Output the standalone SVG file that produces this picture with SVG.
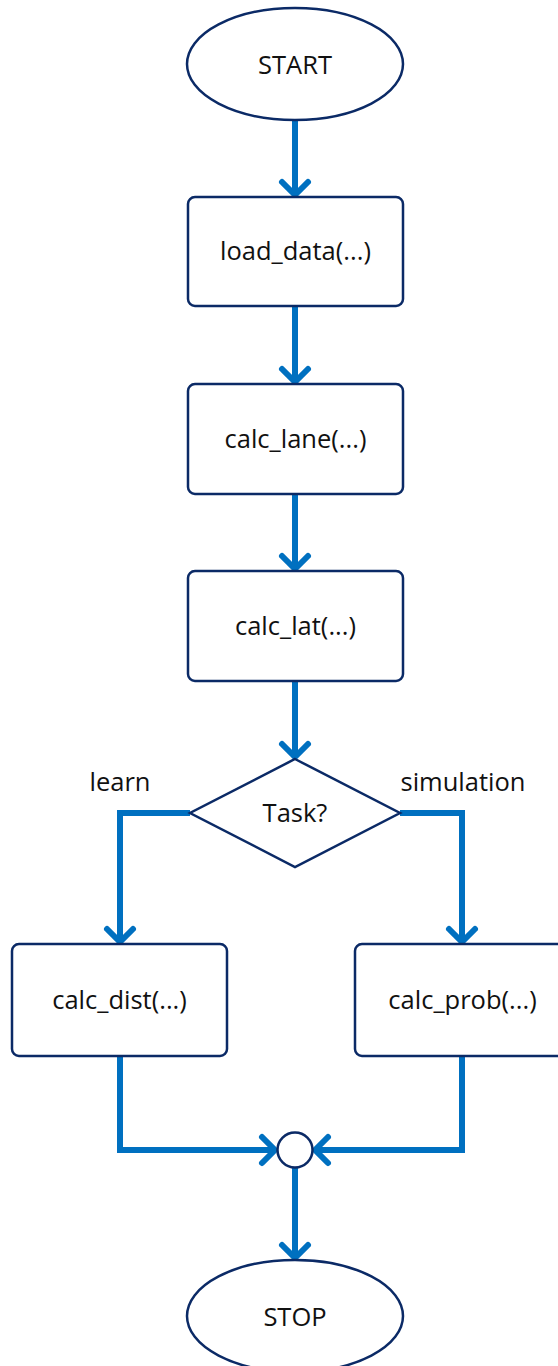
<svg xmlns="http://www.w3.org/2000/svg" width="558" height="1366" viewBox="0 0 558 1366">
  <style>
    .shape { fill: #ffffff; stroke: #0b2a66; stroke-width: 2.5; }
    .label { font-family: "Open Sans", "Liberation Sans", sans-serif; font-size: 25.5px; fill: #111111; text-anchor: middle; }
    .flow { fill: none; stroke: #0070c0; stroke-width: 6; stroke-linejoin: miter; marker-end: url(#chevron); }
  </style>
  <defs>
    <marker id="chevron" markerUnits="userSpaceOnUse" viewBox="-20 -20 26 40" refX="0" refY="0" markerWidth="26" markerHeight="40" orient="auto" overflow="visible">
      <path d="M-13,-13 L0,0 L-13,13" fill="none" stroke="#0070c0" stroke-width="6" stroke-linecap="round" stroke-linejoin="round"/>
    </marker>
  </defs>

  <!-- connectors -->
  <g id="connectors">
    <path class="flow" d="M295,120 V195"/>
    <path class="flow" d="M295,306 V382"/>
    <path class="flow" d="M295,494 V569"/>
    <path class="flow" d="M295,681 V757"/>
    <path class="flow" d="M190,813 H120 V942"/>
    <path class="flow" d="M400,813 H462 V942"/>
    <path class="flow" d="M120,1056 V1150 H275"/>
    <path class="flow" d="M462,1056 V1150 H315"/>
    <path class="flow" d="M295,1168 V1258"/>
    <text class="label" x="120" y="791">learn</text>
    <text class="label" x="463" y="791">simulation</text>
  </g>

  <g id="start">
    <ellipse class="shape" cx="295" cy="64" rx="108" ry="56"/>
    <text class="label" x="295" y="74">START</text>
  </g>
  <g id="load_data">
    <rect class="shape" x="188" y="197" width="215" height="109" rx="7"/>
    <text class="label" x="295.5" y="260">load_data(...)</text>
  </g>
  <g id="calc_lane">
    <rect class="shape" x="188" y="384" width="215" height="110" rx="7"/>
    <text class="label" x="295.5" y="448">calc_lane(...)</text>
  </g>
  <g id="calc_lat">
    <rect class="shape" x="188" y="571" width="215" height="110" rx="7"/>
    <text class="label" x="295.5" y="635">calc_lat(...)</text>
  </g>
  <g id="task">
    <polygon class="shape" points="295,759 400,813 295,867 190,813"/>
    <text class="label" x="295" y="822">Task?</text>
  </g>
  <g id="calc_dist">
    <rect class="shape" x="12" y="944" width="215" height="112" rx="7"/>
    <text class="label" x="119.5" y="1009">calc_dist(...)</text>
  </g>
  <g id="calc_prob">
    <rect class="shape" x="355" y="944" width="215" height="112" rx="7"/>
    <text class="label" x="462.5" y="1009">calc_prob(...)</text>
  </g>
  <g id="join">
    <circle class="shape" cx="295" cy="1150" r="17.5"/>
  </g>
  <g id="stop">
    <ellipse class="shape" cx="295" cy="1316" rx="108" ry="56"/>
    <text class="label" x="295" y="1326">STOP</text>
  </g>
</svg>
